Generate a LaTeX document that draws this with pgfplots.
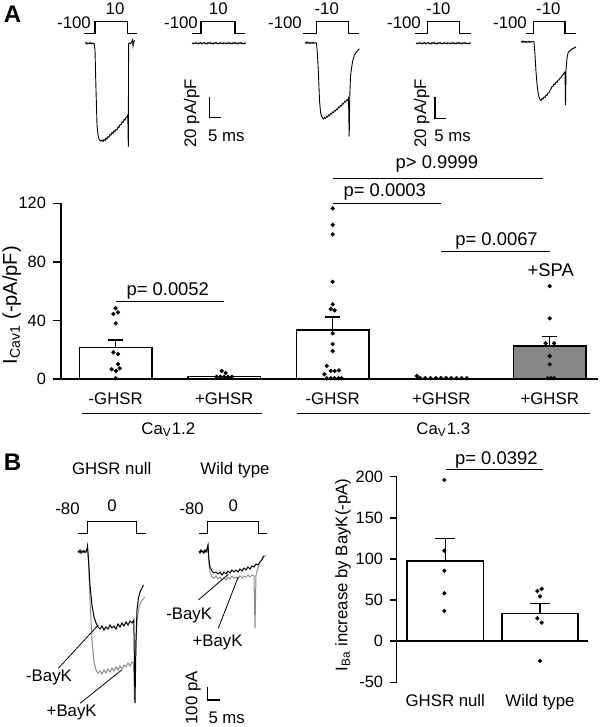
\documentclass[border=0pt]{standalone}
\usepackage{pgfplots}
\pgfplotsset{compat=1.18}
\usepackage{fontspec}
\setmainfont{Liberation Sans}
\setsansfont{Liberation Sans}
\definecolor{tgray}{gray}{0.55}
\definecolor{bgray}{gray}{0.53}
\newcommand{\fs}{\fontsize{8.4}{10}\selectfont}
\newcommand{\fp}{\fontsize{9.2}{11}\selectfont}
\newcommand{\ft}{\fontsize{8.2}{9.5}\selectfont}
\pgfplotsset{/pgf/number format/assume math mode=true}
\begin{document}
\begin{tikzpicture}[font=\fs]
% ---------- canvas axis in pixel units (traces, protocols, annotations) ----------
\begin{axis}[at={(0,0)}, anchor=south west, scale only axis, width=303.5pt, height=363.5pt,
  xmin=0, xmax=607, ymin=0, ymax=727, y dir=reverse, hide axis, clip=false]
% panel letters
\node[anchor=base, font=\fontsize{12}{14}\selectfont\bfseries] at (axis cs:12.5,22.7) {A};
\node[anchor=base, font=\fontsize{12}{14}\selectfont\bfseries] at (axis cs:12.5,470) {B};
% protocol labels A
\node[anchor=base] at (axis cs:74,29) {-100};
\node[anchor=base] at (axis cs:115,15) {10};
\node[anchor=base] at (axis cs:181,29) {-100};
\node[anchor=base] at (axis cs:218.3,15) {10};
\node[anchor=base] at (axis cs:285,29) {-100};
\node[anchor=base] at (axis cs:326.7,15) {-10};
\node[anchor=base] at (axis cs:404,29) {-100};
\node[anchor=base] at (axis cs:438.3,15) {-10};
\node[anchor=base] at (axis cs:510,29) {-100};
\node[anchor=base] at (axis cs:548.3,15) {-10};
% protocols A
\addplot[black, line width=0.6pt] coordinates {(84,33.3)(95,33.3)(95,21.7)(127.7,21.7)(127.7,33.3)(137.3,33.3)};
\addplot[black, line width=0.6pt] coordinates {(191.7,33.3)(201,33.3)(201,21.7)(235,21.7)(235,33.3)(245,33.3)};
\addplot[black, line width=0.6pt] coordinates {(303.3,33.3)(316.7,33.3)(316.7,21.7)(348.3,21.7)(348.3,33.3)(359.3,33.3)};
\addplot[black, line width=0.6pt] coordinates {(415,33.3)(427.7,33.3)(427.7,21.7)(459.3,21.7)(459.3,33.3)(470.7,33.3)};
\addplot[black, line width=0.6pt] coordinates {(526,33.3)(533.3,33.3)(533.3,21.7)(565,21.7)(565,33.3)(576,33.3)};
% traces A
\addplot[black, line width=0.45pt] coordinates {(85,43.5)(86,42.5)(87,44)(88,43)(89,43.8)(90,42.6)(91,43.9)(92,43)(93,43.7)(94,43.2)
 (95,50)(96,90)(97,125)(98,135)(99,139)(100,140.5)(101,141)(102,140)(103,141.5)(104,139.5)(105,140.5)(106,138)(107,139)(108,136.5)(109,137)(110,134.5)(111,135)(112,132.5)(113,133.5)(114,131)(115,131.5)(116,129.5)(117,129.8)(118,127)(119,127.5)(120,124.5)(121,124.8)(122,122)(123,122.5)(124,119.5)(125,120)(126,117.5)(127,117)(127.8,115)(128.3,146.7)(128.6,44)(129.5,43)(130.5,43.5)(131.5,42)(132.5,40)(133,46)(133.6,42.5)(134.5,40)};
\addplot[black, line width=0.45pt] coordinates {(192,43)(193,43.8)(194,42.9)(195,43.6)(196,42.6)(197,43.5)(198,44)(199,42.8)(200,43.6)(201,42.5)(202,43.9)(203,43.1)(204,42.5)(205,43.8)(206,43)(207,44)(208,42.7)(209,43.4)(210,42.4)(211,43.8)(212,43.1)(213,44.1)(214,42.7)(215,43.5)(216,42.4)(217,43.8)(218,43)(219,43.9)(220,42.6)(221,43.6)(222,42.9)(223,44)(224,42.5)(225,43.3)(226,43.9)(227,42.8)(228,43.5)(229,42.6)(230,43.7)(231,43.1)(232,44)(233,42.6)(234,43.4)(235,42.5)(236,43.8)(237,43)(238,43.9)(239,42.7)(240,43.5)(241,42.4)(242,43.7)(243,43.2)(244,44)(245,42.8)(246,43.4)};
\addplot[black, line width=0.45pt] coordinates {(305,42.5)(306,43.5)(307,42)(308,43.2)(309,42.4)(310,43.6)(311,42.6)(312,43.3)(313,42.3)(314,43.4)(315,42.8)(316.5,43)
 (317.5,55)(318.5,75)(319.5,100)(320.5,112)(321.5,116)(322.5,118)(323.5,119)(324.5,117.5)(325.5,118.5)(326.5,116.5)(327.5,117)(328.5,115)(329.5,115.8)(330.5,113.5)(331.5,114)(332.5,112)(333.5,112.5)(334.5,110.5)(335.5,111)(336.5,109)(337.5,109.5)(338.5,107)(339.5,107.5)(340.5,105.5)(341.5,105.8)(342.5,103.5)(343.5,104)(344.5,101.5)(345.5,102)(346.5,100)(347.5,100.3)(348.5,98)(349.2,136.7)(349.8,95)(350.5,76.7)(351.5,68)(352.5,62)(353.5,58)(354.5,55)(355.5,53.5)(356.5,52)(357.5,51)(358.5,49.5)(359.5,49)};
\addplot[black, line width=0.45pt] coordinates {(416,43)(417,43.8)(418,42.9)(419,43.6)(420,42.6)(421,43.5)(422,44)(423,42.8)(424,43.6)(425,42.5)(426,43.9)(427,43.1)(428,42.5)(429,43.8)(430,43)(431,44)(432,42.7)(433,43.4)(434,42.4)(435,43.8)(436,43.1)(437,44.1)(438,42.7)(439,43.5)(440,42.4)(441,43.8)(442,43)(443,43.9)(444,42.6)(445,43.6)(446,42.9)(447,44)(448,42.5)(449,43.3)(450,43.9)(451,42.8)(452,43.5)(453,42.6)(454,43.7)(455,43.1)(456,44)(457,42.6)(458,43.4)(459,42.5)(460,43.8)(461,43)(462,43.9)(463,42.7)(464,43.5)(465,42.4)(466,43.7)(467,43.2)(468,44)(469,42.8)(470,43.4)(471,43)};
\addplot[black, line width=0.45pt] coordinates {(521,41.5)(522,42.5)(523,41)(524,42.2)(525,41.3)(526,42.5)(527,41.5)(528,42.3)(529,41.2)(530,42.4)(531,41.6)(532,42)(533,41.5)(534,42)
 (535,55)(536,72)(537,84)(538,92)(539,97)(540,99.5)(541,100.5)(542,98.5)(543,99)(544,97)(545,97.5)(546,95)(547,95.5)(548,93)(549,93)(550,90)(551,89)(552,86.5)(553,86.5)(554,84)(555,84.5)(556,82)(557,82.5)(558,80)(559,80)(560,78)(561,77.5)(562,75.5)(563,75)(564,73)(565,72)(565.5,105)(566,70)(567,58)(568,53)(569,51.5)(570,50.5)(571,50)(572,49)(573,48.5)(574,48)(575,47.5)(576,47)};
% scale bars A
\addplot[black, line width=0.6pt] coordinates {(209.3,96.7)(209.3,117.3)(220.7,117.3)};
\addplot[black, line width=0.6pt] coordinates {(435,96.7)(435,118.3)(446,118.3)};
\node[rotate=90] at (axis cs:191.7,113.3) {20 pA/pF};
\node[anchor=base] at (axis cs:226.3,141.7) {5 ms};
\node[rotate=90] at (axis cs:421.7,113.3) {20 pA/pF};
\node[anchor=base] at (axis cs:452.5,141.7) {5 ms};
% group lines A
\addplot[black, line width=0.5pt] coordinates {(81.7,413.3)(261.7,413.3)};
\addplot[black, line width=0.5pt] coordinates {(296.7,413.3)(590,413.3)};
\node[anchor=base] at (axis cs:168.3,434) {Ca\textsubscript{V}1.2};
\node[anchor=base] at (axis cs:443.3,434) {Ca\textsubscript{V}1.3};
% panel B titles and protocols
\node[anchor=base] at (axis cs:111.7,474) {GHSR null};
\node[anchor=base] at (axis cs:235,474) {Wild type};
\node[anchor=base] at (axis cs:67.5,514) {-80};
\node[anchor=base] at (axis cs:112,511) {0};
\node[anchor=base] at (axis cs:191.7,514) {-80};
\node[anchor=base] at (axis cs:233.3,511) {0};
\addplot[black, line width=0.6pt] coordinates {(78.3,533.3)(87.7,533.3)(87.7,521.7)(136.7,521.7)(136.7,533.3)(145.7,533.3)};
\addplot[black, line width=0.6pt] coordinates {(199,533.3)(207.7,533.3)(207.7,521.7)(258.3,521.7)(258.3,533.3)(266.7,533.3)};
% traces B1
\addplot[tgray, line width=0.5pt] coordinates {(78,552)(80,551)(82,553)(84,551.5)(86,552.5)(87.5,549)
 (88.5,560)(90,600)(92,640)(94,662)(96,670)(98,673)(100,671)(102,674)(104,670)(106,673)(108,669)(110,672)(112,668)(114,671)(116,667)(118,670)(120,666)(122,669)(124,665)(126,667)(128,663)(130,666)(132,662)(133.5,663)(134.5,700)(135.5,660)(137,620)(139,607)(141,602)(143,599)(145,597)};
\addplot[black, line width=0.5pt] coordinates {(78,551)(79,552.5)(80,550)(81,553)(82,551)(83,552)(84,550.5)(85,552.5)(86,551)(87,549)(87.5,546)
 (88.5,560)(90,585)(92,605)(94,617)(96,623)(98,627)(100,629)(102,626)(104,630)(106,627)(108,629)(110,625)(112,628)(114,626)(116,629)(118,624)(120,627)(122,623)(124,626)(126,622)(128,625)(130,621)(132,623)(133.8,620)(135,703)(136,640)(137,610)(138.5,598)(140,592)(142,588)(143.5,585)};
% traces B2
\addplot[tgray, line width=0.5pt] coordinates {(199,552)(201,550.5)(203,553)(205,551)(207,552)(208,547)
 (209,565)(210,572)(212,577)(214,578)(216,576)(218,579)(220,577)(222,580)(224,578)(226,580)(228,577)(230,579)(232,576)(234,578)(236,577)(238,579)(240,576)(242,578)(244,576)(246,577)(248,575)(250,577)(252,575)(254,576)(255,628)(256,575)(258,568)(260,562)(262,559)(264,557)(266,555)};
\addplot[black, line width=0.5pt] coordinates {(199,551)(200,553)(201,550)(202,552)(203,551)(204,553)(205,550)(206,552)(207,549)(208,545)
 (209,560)(210,567)(212,571)(214,573)(216,572)(218,574)(220,572)(222,575)(224,572)(226,574)(228,571)(230,573)(232,570)(234,572)(236,570)(238,572)(240,569)(242,571)(244,568)(246,570)(248,567)(250,569)(252,566)(254,567)(256,564)(258,565)(260,562)(262,560)(263,557)(264,556)};
% BayK annotations
\addplot[black, line width=0.4pt] coordinates {(58.3,668.3)(98.3,625)};
\addplot[black, line width=0.4pt] coordinates {(80,703.3)(121.7,670)};
\addplot[black, line width=0.4pt] coordinates {(198.3,600)(228.3,574.3)};
\addplot[black, line width=0.4pt] coordinates {(218.3,628.3)(238.3,576.7)};
\node[anchor=base] at (axis cs:49,681) {-BayK};
\node[anchor=base] at (axis cs:71.7,716.7) {+BayK};
\node[anchor=base] at (axis cs:189.2,619) {-BayK};
\node[anchor=base] at (axis cs:217.5,646.7) {+BayK};
% scale bar B
\addplot[black, line width=0.6pt] coordinates {(207.7,686.7)(207.7,700)(220,700)};
\node[rotate=90] at (axis cs:193.3,698) {100 pA};
\node[anchor=base] at (axis cs:226.7,723) {5 ms};
\end{axis}

% ---------- Panel A bar chart ----------
\begin{axis}[at={(30.5pt,174pt)}, anchor=south west, scale only axis, width=268.5pt, height=87.85pt,
  xmin=-0.504, xmax=4.445, ymin=0, ymax=120,
  axis x line*=bottom, axis y line*=left, axis line style={line width=0.75pt},
  ytick={0,40,80,120}, xtick={0,1,2,3,4}, xticklabels={-GHSR,+GHSR,-GHSR,+GHSR,+GHSR},
  tick align=outside, major tick length=4pt,
  x tick style={draw=none}, y tick style={line width=0.75pt, black},
  yticklabel style={font=\ft, xshift=0pt},
  xticklabel style={font=\fs, anchor=base, yshift=-9pt},
  ylabel={I\textsubscript{Cav1} (-pA/pF)},
  every axis y label/.style={at={(axis description cs:-0.092,0.42)}, rotate=90, anchor=center, font=\fontsize{10}{12}\selectfont},
  clip=false]
\addplot[ybar, bar width=0.67, bar shift=0pt, fill=white, draw=black, line width=0.75pt] coordinates {(0,21.6) (1,1.8) (2,33.4)};
\addplot[ybar, bar width=0.67, bar shift=0pt, fill=bgray, draw=black, line width=0.75pt] coordinates {(4,22.5)};
% error bars (mean to mean+SEM)
\addplot[black, line width=0.75pt] coordinates {(0,21.6)(0,26.6)};
\addplot[black, line width=0.75pt] coordinates {(-0.069,26.6)(0.069,26.6)};
\addplot[black, line width=0.75pt] coordinates {(2,33.4)(2,42.3)};
\addplot[black, line width=0.75pt] coordinates {(1.931,42.3)(2.069,42.3)};
\addplot[black, line width=0.75pt] coordinates {(4,22.5)(4,28.9)};
\addplot[black, line width=0.75pt] coordinates {(3.931,28.9)(4.069,28.9)};
% individual cells
\addplot[only marks, mark=*, mark size=0.85pt, black] coordinates {
 (0,48.3)(-0.021,44.4)(0.021,45.5)(0,38.0)(-0.021,18.2)(0.021,17.0)(0.021,10.2)(-0.037,6.6)(0.003,5.5)(0.037,7.3)(0,0.5)};
\addplot[only marks, mark=*, mark size=0.85pt, black] coordinates {
 (0.977,5.5)(1.014,4.1)(0.93,1.5)(0.965,1.5)(1.0,1.5)(1.035,1.5)(1.07,1.5)};
\addplot[only marks, mark=*, mark size=0.85pt, black] coordinates {
 (2,116.5)(2,105.3)(2,98.8)(2,66.4)(2,51.0)(1.982,47.8)(2.018,46.9)(2,31.2)(2,23.9)(2,19.1)(1.945,8.9)(1.923,3.2)(1.982,5.5)(2.018,5.5)(2.058,5.9)
 (1.945,0.5)(1.982,0.5)(2.018,0.5)(2.055,0.5)(2.083,0.5)};
\addplot[only marks, mark=*, mark size=0.85pt, black] coordinates {
 (2.776,2.0)(2.805,0.6)(2.853,0.6)(2.901,0.6)(2.949,0.6)(2.997,0.6)(3.045,0.6)(3.093,0.6)(3.141,0.6)(3.189,0.6)(3.236,0.6)};
\addplot[only marks, mark=*, mark size=0.85pt, black] coordinates {
 (4,63.5)(4,41.4)(3.963,24.4)(4.04,24.4)(4,15.7)(4,10.0)(3.98,0.5)(4.01,0.5)(4.04,0.5)};
% significance
\addplot[black, line width=0.5pt] coordinates {(0,53.2)(1,53.2)};
\addplot[black, line width=0.5pt] coordinates {(2,119.9)(3,119.9)};
\addplot[black, line width=0.5pt] coordinates {(2,137)(3.94,137)};
\addplot[black, line width=0.5pt] coordinates {(3,86.9)(4,86.9)};
\node[anchor=base, font=\fp] at (axis cs:0.48,57.3) {p= 0.0052};
\node[anchor=base, font=\fp] at (axis cs:2.48,124.6) {p= 0.0003};
\node[anchor=base, font=\fp] at (axis cs:2.96,143.8) {p> 0.9999};
\node[anchor=base, font=\fp] at (axis cs:3.51,91.5) {p= 0.0067};
\node[anchor=base, font=\fp] at (axis cs:4.01,69.8) {+SPA};
\end{axis}

% ---------- Panel B bar chart ----------
\begin{axis}[at={(198.35pt,22.35pt)}, anchor=south west, scale only axis, width=95.65pt, height=102.8pt,
  xmin=-0.513, xmax=1.507, ymin=-50, ymax=200,
  axis x line*=bottom, axis y line*=left, axis line style={line width=0.75pt},
  x axis line style={draw=none},
  ytick={-50,0,50,100,150,200}, xtick={0,1}, xticklabels={GHSR null,Wild type},
  tick align=outside, major tick length=3.3pt,
  x tick style={draw=none}, y tick style={line width=0.75pt, black},
  yticklabel style={font=\ft},
  xticklabel style={font=\fs, anchor=base, yshift=-9pt},
  ylabel={I\textsubscript{Ba} increase by BayK(-pA)},
  every axis y label/.style={at={(axis description cs:-0.281,0.522)}, rotate=90, anchor=center},
  clip=false]
\addplot[black, line width=0.75pt] coordinates {(-0.513,0)(1.507,0)};
\addplot[ybar, bar width=0.806, bar shift=0pt, fill=white, draw=black, line width=0.75pt] coordinates {(0,97.5) (1,33.9)};
\addplot[black, line width=0.75pt] coordinates {(0,97.5)(0,124.6)};
\addplot[black, line width=0.75pt] coordinates {(-0.105,124.6)(0.105,124.6)};
\addplot[black, line width=0.75pt] coordinates {(1,33.9)(1,46)};
\addplot[black, line width=0.75pt] coordinates {(0.895,46)(1.105,46)};
\addplot[only marks, mark=*, mark size=0.85pt, black] coordinates {
 (-0.01,195.9)(-0.01,110)(-0.01,85.7)(-0.01,58.2)(-0.01,36.7)};
\addplot[only marks, mark=*, mark size=0.85pt, black] coordinates {
 (0.972,61)(1.018,63.5)(1.0,54.6)(0.972,27.8)(1.018,22.5)(1.0,-24)};
\addplot[black, line width=0.5pt] coordinates {(0.004,208.2)(1.035,208.2)};
\node[anchor=base, font=\fp] at (axis cs:0.539,214.3) {p= 0.0392};
\end{axis}
\pgfresetboundingbox
\path[use as bounding box] (0,0) rectangle (303.5pt,363.5pt);
\end{tikzpicture}
\end{document}
